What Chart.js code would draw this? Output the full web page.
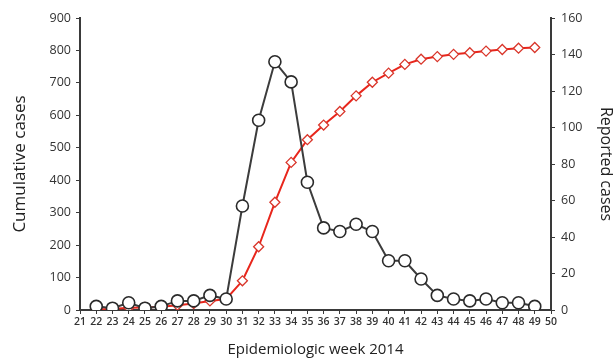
<!DOCTYPE html>
<html>
<head>
<meta charset="utf-8">
<script src="https://cdn.jsdelivr.net/npm/chart.js@4.4.1/dist/chart.umd.min.js"></script>
<style>
  html, body { margin: 0; padding: 0; background: #ffffff; }
  #wrap { width: 616px; height: 359px; position: relative; }
</style>
</head>
<body>
<div id="wrap"><canvas id="c" width="616" height="359"></canvas></div>
<script>
// Epidemiologic weeks (2014)
const weeks = [22,23,24,25,26,27,28,29,30,31,32,33,34,35,36,37,38,39,40,41,42,43,44,45,46,47,48,49];
// Reported cases per week (right axis)
const reportedCases = [2,1,4,1,2,5,5,8,6,57,104,136,125,70,45,43,47,43,27,27,17,8,6,5,6,4,4,2];
// Cumulative cases (left axis)
const cumulativeCases = [2,3,7,8,10,15,20,28,34,90,195,332,455,525,570,612,660,702,730,757,773,781,788,793,798,803,807,809];
// Axis tick settings
const xTickMin = 21, xTickMax = 50;
const leftTickMax = 900, leftTickStep = 100;
const rightTickMax = 160, rightTickStep = 20;

const axisColor = '#3a3a3a';
const font = 'Open Sans';

const toPts = (xs, ys) => xs.map((x, i) => ({ x: x, y: ys[i] }));

new Chart(document.getElementById('c'), {
  type: 'line',
  data: {
    datasets: [
      {
        label: 'Reported cases',
        data: toPts(weeks, reportedCases),
        yAxisID: 'yR',
        borderColor: '#3c3c3c',
        borderWidth: 2,
        pointStyle: 'circle',
        pointRadius: 6,
        pointBorderWidth: 1.6,
        pointBackgroundColor: '#ffffff',
        pointBorderColor: '#2a2a2a',
        tension: 0,
        order: 0
      },
      {
        label: 'Cumulative cases',
        data: toPts(weeks, cumulativeCases),
        yAxisID: 'yL',
        borderColor: '#e8261c',
        borderWidth: 2,
        pointStyle: 'rectRot',
        pointRadius: 5,
        pointBorderWidth: 1.3,
        pointBackgroundColor: '#ffffff',
        pointBorderColor: '#d9352a',
        tension: 0,
        order: 1
      }
    ]
  },
  options: {
    responsive: false,
    animation: false,
    layout: { padding: { top: 18, left: 0, right: 0, bottom: 0 } },
    plugins: { legend: { display: false }, tooltip: { enabled: false } },
    scales: {
      x: {
        type: 'linear',
        min: xTickMin,
        max: xTickMax,
        afterFit: (s) => { s.height = 49; },
        ticks: {
          stepSize: 1,
          autoSkip: false,
          maxRotation: 0,
          color: '#333',
          padding: 2,
          font: { family: font, size: 10.5, weight: '600' }
        },
        grid: { drawOnChartArea: false, drawTicks: true, tickLength: 4, color: axisColor, lineWidth: 1 },
        border: { color: axisColor, width: 2 },
        title: {
          display: true,
          text: 'Epidemiologic week 2014',
          color: '#222',
          font: { family: font, size: 15 },
          padding: { top: 6, bottom: 0 }
        }
      },
      yL: {
        type: 'linear',
        position: 'left',
        min: 0,
        max: leftTickMax,
        afterFit: (s) => { s.width = 80; },
        ticks: { stepSize: leftTickStep, color: '#333', padding: 5, font: { family: font, size: 12.5 } },
        grid: { drawOnChartArea: false, drawTicks: true, tickLength: 4, color: axisColor },
        border: { color: axisColor, width: 2 },
        title: { display: true, text: 'Cumulative cases', color: '#222', font: { family: font, size: 17 }, padding: { top: 10, bottom: 0 } }
      },
      yR: {
        type: 'linear',
        position: 'right',
        min: 0,
        max: rightTickMax,
        afterFit: (s) => { s.width = 65; },
        ticks: { stepSize: rightTickStep, color: '#333', padding: 6, font: { family: font, size: 12.5 } },
        grid: { drawOnChartArea: false, drawTicks: true, tickLength: 4, color: axisColor },
        border: { color: axisColor, width: 2 },
        title: { display: true, text: 'Reported cases', color: '#222', font: { family: font, size: 16 }, padding: { top: 1, bottom: 0 } }
      }
    }
  }
});
</script>
</body>
</html>
